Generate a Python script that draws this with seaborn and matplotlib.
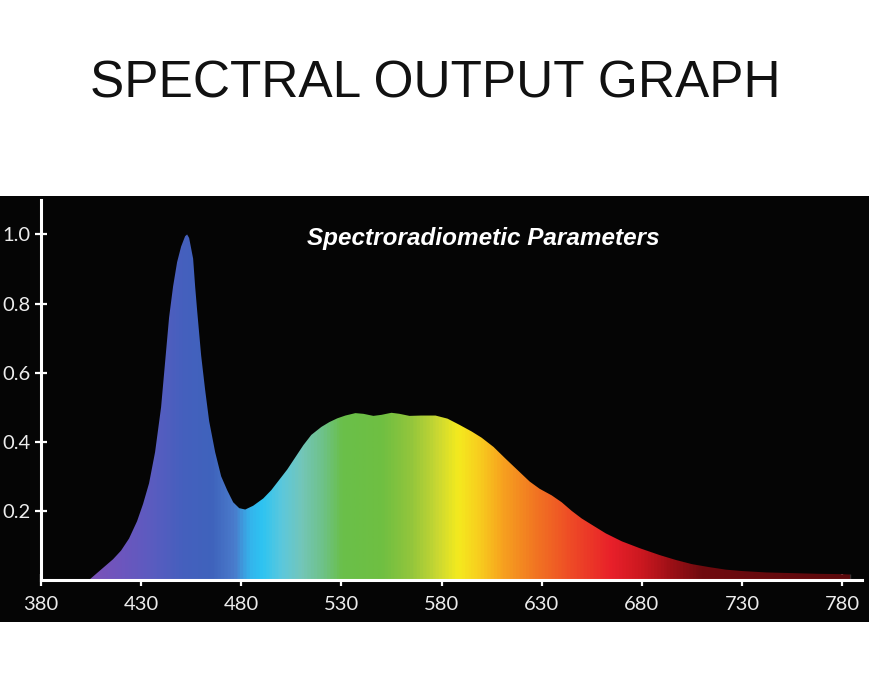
import numpy as np
import pandas as pd
import seaborn as sns
import matplotlib.pyplot as plt
from matplotlib.colors import LinearSegmentedColormap
from matplotlib.patches import Rectangle, PathPatch

# spectrum (nm, relative intensity)
wavelength = [404, 408, 412, 416, 420, 424, 428, 431, 434, 437, 440, 442, 444, 446,
              448, 450, 452, 453, 454, 456, 457, 458, 460, 462, 464, 467, 470, 473,
              476, 479, 482, 486, 491, 495, 499, 503, 507, 511, 515, 520, 524, 528,
              532, 537, 541, 546, 550, 555, 559, 564, 570, 577, 583, 589, 595, 600,
              606, 612, 618, 624, 629, 635, 640, 645, 650, 655, 662, 670, 679, 689,
              697, 705, 714, 722, 730, 742, 755, 768, 780, 784, 784]
intensity = [0.0, 0.02, 0.04, 0.06, 0.085, 0.12, 0.17, 0.22, 0.28, 0.37, 0.50, 0.63,
             0.76, 0.85, 0.92, 0.965, 0.995, 1.0, 0.99, 0.93, 0.85, 0.78, 0.65, 0.55,
             0.46, 0.37, 0.30, 0.26, 0.225, 0.208, 0.204, 0.215, 0.236, 0.26, 0.29,
             0.32, 0.355, 0.39, 0.42, 0.443, 0.457, 0.468, 0.476, 0.483, 0.481, 0.475,
             0.478, 0.484, 0.481, 0.475, 0.476, 0.476, 0.467, 0.449, 0.43, 0.412,
             0.385, 0.351, 0.318, 0.285, 0.264, 0.245, 0.225, 0.20, 0.178, 0.16,
             0.135, 0.112, 0.092, 0.072, 0.058, 0.046, 0.037, 0.03, 0.026, 0.022,
             0.02, 0.018, 0.017, 0.016, 0.0]

# colour of the fill along the wavelength axis
grad_nm = [380, 405, 420, 435, 450, 465, 476, 484, 490, 500, 510, 520, 530, 550,
           565, 578, 588, 598, 610, 625, 645, 665, 680, 695, 710, 790]
grad_colors = ['#7a52b8', '#7a52b8', '#6c56be', '#5a5cc0', '#4560be', '#3f63bc',
               '#4a7ccc', '#34b4ec', '#2ec4f2', '#5cc8dc', '#74c6b8', '#6ec28a',
               '#6abf4a', '#6fbf42', '#94c63c', '#cad832', '#f4ea1e', '#f8d01e',
               '#f7a31f', '#f27a22', '#ee4a26', '#e8202a', '#cc1820', '#9c1016',
               '#700b0f', '#5a090c']

x_ticks = [380, 430, 480, 530, 580, 630, 680, 730, 780]
y_ticks = [0.2, 0.4, 0.6, 0.8, 1.0]
y_labels = ['0.2', '0.4', '0.6', '0.8', '1.0']

sns.set_style('dark')

fig = plt.figure(figsize=(8.7, 7), dpi=100, facecolor='white')
fig.patches.append(Rectangle((0, 0.111), 1, 0.609, transform=fig.transFigure,
                             facecolor='#050505', edgecolor='none', zorder=-10))

ax = fig.add_axes([0.047, 0.1714, 0.944, 0.543])
ax.set_facecolor('none')
ax.set_zorder(2)

df = pd.DataFrame({'nm': wavelength, 'value': intensity})
sns.lineplot(data=df, x='nm', y='value', ax=ax, linewidth=0, color='white')

fill = ax.fill_between(df['nm'], df['value'], 0, facecolor='none', edgecolor='none')
clip = PathPatch(fill.get_paths()[0], transform=ax.transData,
                 facecolor='none', edgecolor='none')
ax.add_patch(clip)

lo, hi = 380, 790
pos = [(n - lo) / (hi - lo) for n in grad_nm]
cmap = LinearSegmentedColormap.from_list('spec', list(zip(pos, grad_colors)))
grad = np.linspace(lo, hi, 1000).reshape(1, -1)
img = ax.imshow(grad, extent=[lo, hi, 0, 1.1], aspect='auto', cmap=cmap,
                vmin=lo, vmax=hi, origin='lower', interpolation='bilinear', zorder=1)
img.set_clip_path(clip)

ax.set_xlim(380, 790)
ax.set_ylim(0, 1.1)
ax.set_xlabel('')
ax.set_ylabel('')
ax.grid(False)

for side in ['top', 'right']:
    ax.spines[side].set_visible(False)
for side in ['left', 'bottom']:
    ax.spines[side].set_visible(True)
    ax.spines[side].set_color('white')
    ax.spines[side].set_linewidth(2.2)
    ax.spines[side].set_zorder(3)

ax.set_xticks(x_ticks)
ax.set_xticklabels([str(t) for t in x_ticks])
ax.set_yticks(y_ticks)
ax.set_yticklabels(y_labels)
ax.tick_params(axis='both', bottom=True, left=True, direction='inout', length=9,
               width=1.6, color='white', labelcolor='#ececec', labelsize=14.5)
ax.tick_params(axis='x', pad=7)
ax.tick_params(axis='y', pad=3)
for lab in ax.get_xticklabels() + ax.get_yticklabels():
    lab.set_family(['Lato', 'DejaVu Sans'])
    lab.set_fontweight('normal')

fig.text(0.5, 1 - 97 / 700, 'SPECTRAL OUTPUT GRAPH', ha='center', va='baseline',
         fontsize=37, family=['Liberation Sans', 'DejaVu Sans'], color='#111111')
fig.text(0.555, 1 - 245 / 700, 'Spectroradiometic Parameters', ha='center',
         va='baseline', fontsize=17.5, fontweight='bold', fontstyle='italic',
         family=['Liberation Sans', 'DejaVu Sans'], color='white')

fig.savefig('out.png', dpi=100, facecolor='white')
